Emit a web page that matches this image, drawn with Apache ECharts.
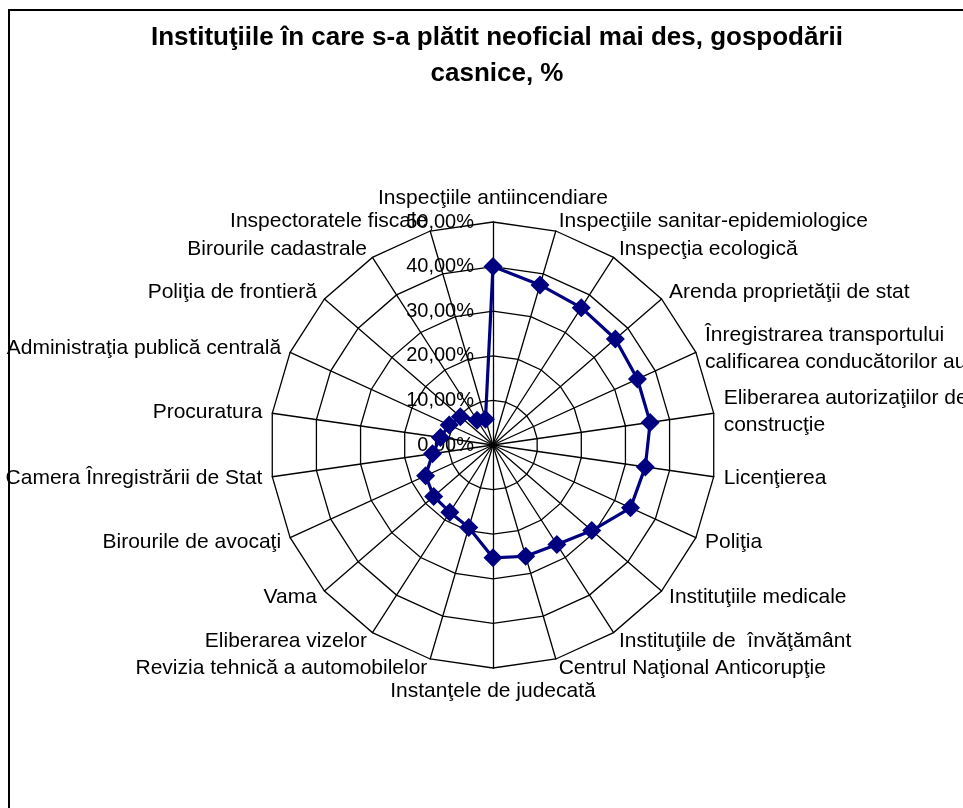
<!DOCTYPE html>
<html>
<head>
<meta charset="utf-8">
<script src="https://cdn.jsdelivr.net/npm/echarts@6/dist/echarts.min.js"></script>
<style>
  html, body { margin: 0; padding: 0; background: #fff; }
  #chart { width: 963px; height: 808px; }
</style>
</head>
<body>
<div id="chart"></div>
<script>
const titleText = 'Instituţiile în care s-a plătit neoficial mai des, gospodării\ncasnice, %';

// Categories in clockwise order starting from the top spoke
const categories = [
  'Inspecţiile antiincendiare',
  'Inspecţiile sanitar-epidemiologice',
  'Inspecţia ecologică',
  'Arenda proprietăţii de stat',
  'Înregistrarea transportului\ncalificarea conducătorilor auto',
  'Eliberarea autorizaţiilor de\nconstrucţie',
  'Licenţierea',
  'Poliţia',
  'Instituţiile medicale',
  'Instituţiile de  învăţământ',
  'Centrul Naţional Anticorupţie',
  'Instanţele de judecată',
  'Revizia tehnică a automobilelor',
  'Eliberarea vizelor',
  'Vama',
  'Birourile de avocaţi',
  'Camera Înregistrării de Stat',
  'Procuratura',
  'Administraţia publică centrală',
  'Poliţia de frontieră',
  'Birourile cadastrale',
  'Inspectoratele fiscale'
];

const values = [40.0, 37.4, 36.6, 36.3, 35.6, 35.6, 34.5, 33.9, 29.3, 26.5, 26.0, 25.3,
                19.3, 17.9, 17.6, 16.6, 13.7, 11.9, 10.8, 9.7, 6.6, 6.0];

const axisMin = 0;
const axisMax = 50;
const axisSplits = 5;

const fmtPct = v => v.toFixed(2).replace('.', ',') + '%';

// ECharts radar runs counter-clockwise; reorder so the reading is clockwise
const order = [0].concat(categories.map((_, i) => i).slice(1).reverse());

const indicators = order.map((idx, k) => {
  const ind = { name: categories[idx], min: axisMin, max: axisMax };
  if (k === 0) {
    ind.axisLabel = { show: true };
  }
  return ind;
});
const orderedValues = order.map(idx => values[idx]);

const chart = echarts.init(document.getElementById('chart'), null, { renderer: 'canvas' });

chart.setOption({
  backgroundColor: '#ffffff',
  animation: false,
  title: {
    text: titleText,
    left: 492,
    top: 15,
    textAlign: 'center',
    textStyle: {
      fontFamily: 'Liberation Sans, Arial, sans-serif',
      fontSize: 26,
      fontWeight: 'bold',
      color: '#000',
      lineHeight: 36
    }
  },
  graphic: [{
    type: 'rect',
    shape: { x: 9, y: 10, width: 1000, height: 1000 },
    style: { fill: 'none', stroke: '#000', lineWidth: 2 },
    silent: true,
    z: -10
  }],
  radar: {
    center: [493, 445],
    radius: 223,
    startAngle: 90,
    splitNumber: axisSplits,
    shape: 'polygon',
    indicator: indicators,
    nameGap: 10,
    axisName: {
      color: '#000',
      fontFamily: 'Liberation Sans, Arial, sans-serif',
      fontSize: 21,
      lineHeight: 27
    },
    axisLine: { lineStyle: { color: '#000', width: 1.3 } },
    splitLine: { lineStyle: { color: '#000', width: 1.3 } },
    splitArea: { show: false },
    axisTick: { show: false },
    axisLabel: {
      show: false,
      color: '#000',
      fontFamily: 'Liberation Sans, Arial, sans-serif',
      fontSize: 20,
      margin: 19,
      formatter: v => fmtPct(v)
    }
  },
  series: [{
    type: 'radar',
    symbol: 'diamond',
    symbolSize: 19,
    lineStyle: { color: '#000080', width: 3.2 },
    itemStyle: { color: '#000080' },
    z: 10,
    data: [{ value: orderedValues, name: 'Gospodării casnice' }]
  }]
});
</script>
</body>
</html>
